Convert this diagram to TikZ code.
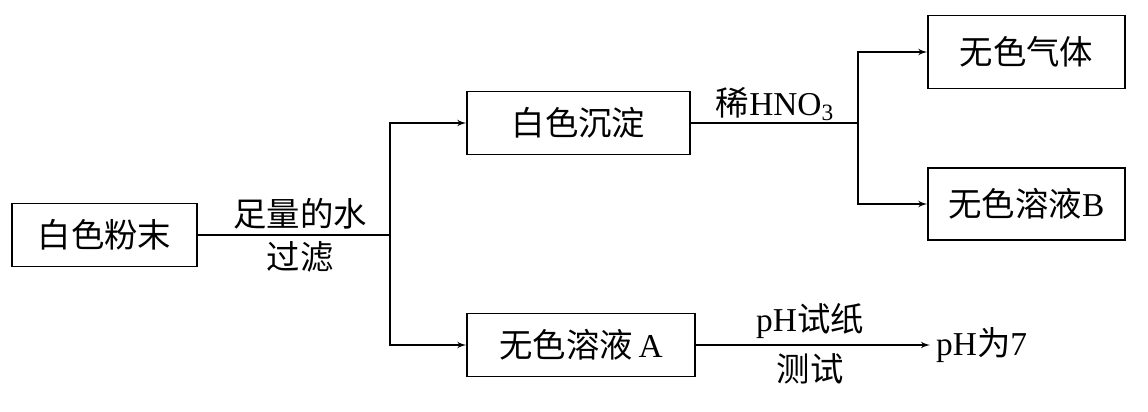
\documentclass[tikz,border=0pt]{standalone}
\usepackage{fontspec}
\setmainfont{Liberation Serif}
\newfontfamily\cjk{Noto Sans CJK SC}
\usetikzlibrary{arrows,positioning}
\tikzset{box/.style={draw, thick, text centered, minimum height=1.25cm, font=\cjk\fontsize{19}{21}\selectfont}}
\tikzset{line/.style={draw, thick, -latex'}}
\tikzset{lbl/.style={font=\cjk\fontsize{19}{21}\selectfont}}
\begin{document}
\begin{tikzpicture}[>=latex']
		\useasboundingbox (0,0) rectangle (22.96,8.24);
		\node [box, minimum width=3.7cm]		(powder) at (2.09,3.54) {白色粉末};
		\node [box, minimum width=4.46cm]		(precip) at (11.57,5.78) {白色沉淀};
		\node [box, minimum width=4.56cm]		(solA) at (11.62,1.34) {无色溶液\,{\rmfamily A}};
		\node [box, minimum width=3.94cm, minimum height=1.46cm]	(gas) at (20.53,7.2) {无色气体};
		\node [box, minimum width=3.94cm, minimum height=1.44cm]	(solB) at (20.53,4.16) {无色溶液{\rmfamily B}};
		\node [lbl, anchor=west]					(ph) at (18.6,1.34) {{\rmfamily pH}为{\rmfamily 7}};
		\coordinate (j1) at (7.8,3.54);
		\coordinate (j2) at (17.16,5.78);

		\draw [thick] (powder) -- (j1);
		\path [line] (j1) |- (precip);
		\path [line] (j1) |- (solA);
		\draw [thick] (precip) -- (j2);
		\path [line] (j2) |- (gas);
		\path [line] (j2) |- (solB);
		\path [line] (solA) -- (ph);

		\node [lbl, above] at (6.0,3.54) {足量的水};
		\node [lbl, below] at (6.0,3.54) {过滤};
		\node [lbl, above, xshift=0.1cm] at (15.4,5.7) {稀{\rmfamily HNO\textsubscript{3}}};
		\node [lbl, above] at (16.2,1.34) {{\rmfamily pH}试纸};
		\node [lbl, below] at (16.2,1.3) {测试};
	\end{tikzpicture}
\end{document}
